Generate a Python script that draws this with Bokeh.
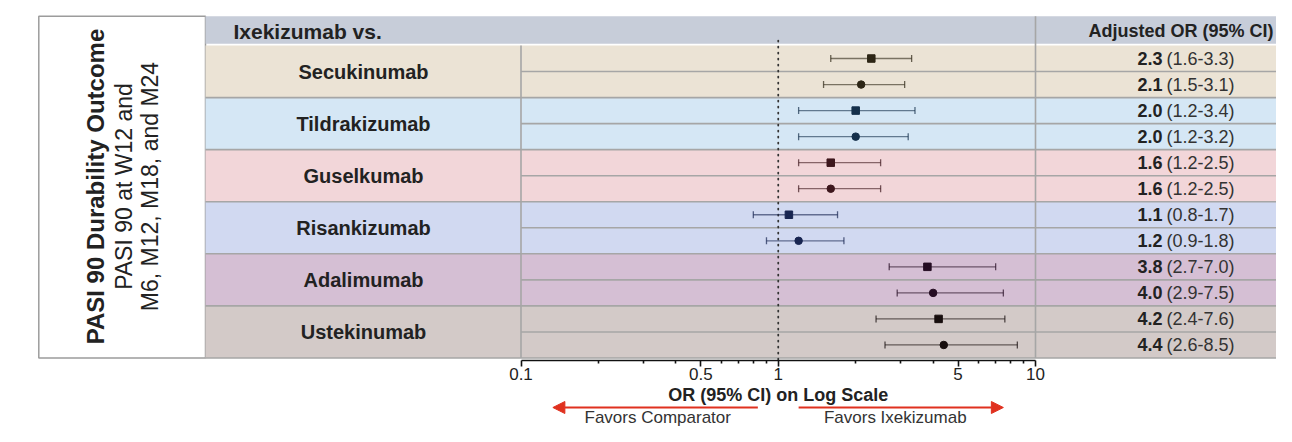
import math
from bokeh.plotting import figure
from bokeh.layouts import column
from bokeh.models import (Range1d, LinearScale, FixedTicker, CustomJSTickFormatter,
                          Arrow, NormalHead)
from bokeh.core.properties import value
from bokeh.embed import file_html
from bokeh.resources import INLINE

# ---------------- data ----------------
comparators = ["Secukinumab", "Tildrakizumab", "Guselkumab",
               "Risankizumab", "Adalimumab", "Ustekinumab"]
# first row of each comparator (square marker)
or_first = [2.3, 2.0, 1.6, 1.1, 3.8, 4.2]
lo_first = [1.6, 1.2, 1.2, 0.8, 2.7, 2.4]
hi_first = [3.3, 3.4, 2.5, 1.7, 7.0, 7.6]
# second row of each comparator (circle marker)
or_second = [2.1, 2.0, 1.6, 1.2, 4.0, 4.4]
lo_second = [1.5, 1.2, 1.2, 0.9, 2.9, 2.6]
hi_second = [3.1, 3.2, 2.5, 1.8, 7.5, 8.5]
major_ticks = [0.1, 0.5, 1, 5, 10]
minor_ticks = [0.2, 0.3, 0.4, 0.6, 0.7, 0.8, 0.9, 2, 3, 4, 6, 7, 8, 9]
side_title = ["PASI 90 Durability Outcome", "PASI 90 at W12 and", "M6, M12, M18, and M24"]
header_left = "Ixekizumab vs."
header_right = "Adjusted OR (95% CI)"
axis_title = "OR (95% CI) on Log Scale"
favors = ["Favors Comparator", "Favors Ixekizumab"]
favors_pos = [0.34, 2.85]          # where the two captions sit on the OR axis
arrow_spans = [(0.833, 0.133), (1.2, 7.5)]

# ---------------- styles ----------------
band_colors = ["#ebe3d5", "#d5e7f5", "#f2d6d9", "#d1d9f1", "#d5bfd4", "#d3cac8"]
mark_colors = ["#2d2616", "#15304b", "#3d171d", "#182551", "#250d23", "#170e0e"]
header_color = "#c7cdd9"
grid_color = "#a6a6a6"
text_color = "#222222"
red = "#e0311f"
FONT_NAME = "Liberation Sans"
FONT = value(FONT_NAME)

# ---------------- layout ----------------
W, H = 1276, 426
FRAME_BOTTOM = 360          # px from top where the axis sits
AXIS_PANEL = 26             # px under the axis for ticks and tick labels
TOP_H = FRAME_BOTTOM + AXIS_PANEL
BOT_H = H - TOP_H
PX_PER_DECADE = 257.25
AX0 = 520.5                 # px of 0.1 on the log axis
ROW_PX = 26.04
ROW0 = 58.02                # px of first row centre
AX_MIN, AX_MAX = major_ticks[0], major_ticks[-1]

x_start = 10 ** (math.log10(AX_MIN) - AX0 / PX_PER_DECADE)
x_end = 10 ** (math.log10(AX_MIN) + (W - AX0) / PX_PER_DECADE)
y_bottom = (FRAME_BOTTOM - ROW0) / ROW_PX
y_top = -ROW0 / ROW_PX
xr = Range1d(x_start, x_end)

p = figure(width=W, height=TOP_H, x_axis_type="log",
           x_range=xr, y_range=Range1d(y_bottom, y_top),
           y_axis_location=None, toolbar_location=None, output_backend="svg",
           min_border_left=0, min_border_right=0, min_border_top=0,
           min_border_bottom=AXIS_PANEL)
p.extra_x_ranges = {"tab": Range1d(0, W)}
p.extra_x_scales = {"tab": LinearScale()}
p.grid.visible = False
p.outline_line_color = None
p.background_fill_color = "white"
p.border_fill_color = "white"

n = len(comparators)
rows_first = [2 * i for i in range(n)]
rows_second = [2 * i + 1 for i in range(n)]

HEAD_TOP, HEAD_BOT = -1.625, -0.565
TAB_LEFT = 205
BOX_LEFT = 38.3
LAST = 2 * n - 0.5

# left white box with rotated title
p.quad(left=[BOX_LEFT], right=[TAB_LEFT], top=[HEAD_TOP], bottom=[LAST],
       fill_color="white", line_color="#9c9c9c", line_width=1.5, x_range_name="tab")
ymid = 4.915
p.text(x=[95], y=[ymid], text=[side_title[0]], angle=math.pi / 2,
       text_align="center", text_baseline="middle", text_font=FONT,
       text_font_style="bold", text_font_size="24px", text_color=text_color,
       x_range_name="tab")
p.text(x=[123, 149.5], y=[ymid, ymid], text=side_title[1:], angle=math.pi / 2,
       text_align="center", text_baseline="middle", text_font=FONT,
       text_font_size="23px", text_color=text_color, x_range_name="tab")

# header bar
p.quad(left=[TAB_LEFT], right=[W], top=[HEAD_TOP], bottom=[HEAD_BOT],
       fill_color=header_color, line_color=None, x_range_name="tab")
p.text(x=[233], y=[(HEAD_TOP + HEAD_BOT) / 2 + 0.05], text=[header_left],
       text_align="left", text_baseline="middle", text_font=FONT,
       text_font_style="bold", text_font_size="21px", text_color=text_color,
       x_range_name="tab")
p.text(x=[1273], y=[(HEAD_TOP + HEAD_BOT) / 2 + 0.05], text=[header_right],
       text_align="right", text_baseline="middle", text_font=FONT,
       text_font_style="bold", text_font_size="18px", text_color=text_color,
       x_range_name="tab")

# coloured bands
p.quad(left=[TAB_LEFT] * n, right=[W] * n,
       top=[r - 0.5 for r in rows_first], bottom=[r + 1.5 for r in rows_first],
       fill_color=band_colors, line_color=None, x_range_name="tab")

# separators
p.segment(x0=[TAB_LEFT] * n, x1=[W] * n, y0=[r + 1.5 for r in rows_first],
          y1=[r + 1.5 for r in rows_first], line_color=grid_color, line_width=1.6,
          x_range_name="tab")
p.segment(x0=[AX_MIN] * n, x1=[x_end] * n, y0=[r + 0.5 for r in rows_first],
          y1=[r + 0.5 for r in rows_first], line_color=grid_color, line_width=1.6)
p.segment(x0=[AX_MIN, AX_MAX], x1=[AX_MIN, AX_MAX], y0=[-0.5, HEAD_TOP],
          y1=[LAST, LAST], line_color=grid_color, line_width=1.6)

# comparator names
p.text(x=[363] * n, y=[r + 0.5 for r in rows_first], text=comparators,
       text_align="center", text_baseline="middle", text_font=FONT,
       text_font_style="bold", text_font_size="20px", text_color=text_color,
       x_range_name="tab")

# reference line at OR = 1
p.segment(x0=[1], x1=[1], y0=[-0.69], y1=[y_bottom], line_color="#333333",
          line_width=1.8, line_dash=value("1 5"), line_cap="round")

# error bars and markers
rows = rows_first + rows_second
ors = or_first + or_second
los = lo_first + lo_second
his = hi_first + hi_second
cols = mark_colors + mark_colors
p.segment(x0=los, x1=his, y0=rows, y1=rows, line_color=cols, line_alpha=0.6,
          line_width=1.3)
p.scatter(x=los + his, y=rows + rows, marker="dash", angle=math.pi / 2, size=7,
          line_color=cols + cols, line_alpha=0.7, line_width=1.3)
p.scatter(x=or_first, y=rows_first, marker="square", size=7.5,
          fill_color=mark_colors, line_color=mark_colors)
p.scatter(x=or_second, y=rows_second, marker="circle", size=7.5,
          fill_color=mark_colors, line_color=mark_colors)

# right column of estimates
p.text(x=[1162] * len(rows), y=rows, text=[f"{v:.1f}" for v in ors],
       text_align="right", text_baseline="middle", text_font=FONT,
       text_font_style="bold", text_font_size="18px", text_color=text_color,
       x_range_name="tab")
p.text(x=[1166] * len(rows), y=rows,
       text=[f"({a:.1f}-{b:.1f})" for a, b in zip(los, his)],
       text_align="left", text_baseline="middle", text_font=FONT,
       text_font_size="18px", text_color="#333333", x_range_name="tab")

# axis
ax = p.xaxis[0]
ax.bounds = (AX_MIN, AX_MAX)
ax.ticker = FixedTicker(ticks=major_ticks, minor_ticks=minor_ticks)
ax.formatter = CustomJSTickFormatter(code="return String(tick);")
ax.axis_line_color = "#111111"
ax.axis_line_width = 1.6
ax.major_tick_in = 0
ax.major_tick_out = 6
ax.minor_tick_in = 0
ax.minor_tick_out = 3
ax.major_tick_line_width = 1.6
ax.minor_tick_line_width = 1.6
ax.major_tick_line_color = "#111111"
ax.minor_tick_line_color = "#111111"
ax.major_label_text_font = FONT_NAME
ax.major_label_text_font_size = "17px"
ax.major_label_text_color = text_color
ax.major_label_standoff = 1

# ---------------- bottom strip: axis title, arrows, captions ----------------
q = figure(width=W, height=BOT_H, x_axis_type="log", x_range=xr,
           y_range=Range1d(BOT_H, 0), x_axis_location=None, y_axis_location=None,
           toolbar_location=None, output_backend="svg",
           min_border_left=0, min_border_right=0, min_border_top=0,
           min_border_bottom=0)
q.grid.visible = False
q.outline_line_color = None
q.background_fill_color = "white"
q.border_fill_color = "white"

q.text(x=[1], y=[8.5], text=[axis_title], text_align="center",
       text_baseline="middle", text_font=FONT, text_font_style="bold",
       text_font_size="18px", text_color=text_color)
ya = 21
for x0, x1 in arrow_spans:
    q.add_layout(Arrow(end=NormalHead(size=12, fill_color=red, line_color=red),
                       x_start=x0, y_start=ya, x_end=x1, y_end=ya,
                       line_color=red, line_width=2))
q.text(x=favors_pos, y=[31, 31], text=favors, text_align="center",
       text_baseline="middle", text_font=FONT, text_font_size="17px",
       text_color="#333333")

layout = column(p, q, spacing=0)
open("out.html", "w").write(file_html(layout, INLINE))
